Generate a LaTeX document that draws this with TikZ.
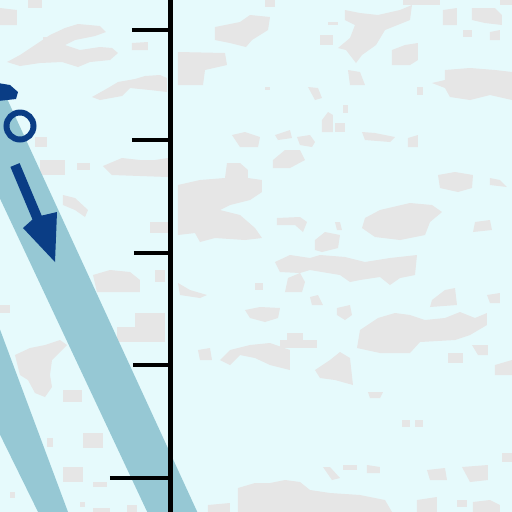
\documentclass[tikz,border=0pt]{standalone}
\usepackage{tikz}
\definecolor{bgc}{HTML}{E6FAFC}
\definecolor{cloudc}{HTML}{E6E6E6}
\definecolor{bandc}{HTML}{96C8D4}
\definecolor{navyc}{HTML}{0A3D85}
\begin{document}
\begin{tikzpicture}[x=0.02cm,y=-0.02cm,
  cloud/.style={fill=cloudc},
  bandfill/.style={fill=bandc},
  axisline/.style={draw=black,line width=2.8pt},
  ticklINE/.style={draw=black,line width=2.8pt},
  marker/.style={fill=navyc}]
\useasboundingbox (0,0) rectangle (512,512);
\fill[bgc] (0,0) rectangle (512,512);
\clip (0,0) rectangle (512,512);
% clouds left
\fill[cloud] (0,8) -- (17,10) -- (17,25) -- (0,25) -- cycle;
\fill[cloud] (28,0) -- (42,0) -- (42,8) -- (28,8) -- cycle;
\fill[cloud] (7,62) -- (20,55) -- (35,45) -- (50,35) -- (65,28) -- (78,24) -- (100,26) -- (106,32) -- (95,36) -- (75,40) -- (65,45) -- (80,50) -- (100,47) -- (112,48) -- (118,53) -- (110,60) -- (90,62) -- (78,67) -- (62,62) -- (40,63) -- (20,66) -- cycle;
\fill[cloud] (43,37) rectangle (50,43);
\fill[cloud] (132,43) -- (148,42) -- (148,50) -- (132,50) -- cycle;
\fill[cloud] (92,97) -- (108,88) -- (118,82) -- (135,79) -- (145,76) -- (160,75) -- (167,78) -- (167,92) -- (150,90) -- (130,88) -- (122,96) -- (100,100) -- cycle;
\fill[cloud] (35,137) rectangle (47,147);
\fill[cloud] (103,166) -- (122,158) -- (140,160) -- (155,160) -- (168,158) -- (168,177) -- (112,175) -- cycle;
\fill[cloud] (40,160) rectangle (65,175);
\fill[cloud] (77,163) rectangle (90,170);
\fill[cloud] (63,195) -- (75,198) -- (88,210) -- (85,217) -- (75,210) -- (63,205) -- cycle;
\fill[cloud] (150,222) rectangle (168,233);
\fill[cloud] (93,275) -- (110,270) -- (130,272) -- (140,280) -- (140,292) -- (97,292) -- cycle;
\fill[cloud] (155,270) rectangle (165,282);
\fill[cloud] (135,313) rectangle (165,342);
\fill[cloud] (117,327) rectangle (137,342);
\fill[cloud] (15,355) -- (30,348) -- (45,345) -- (60,340) -- (67,345) -- (52,360) -- (50,375) -- (52,387) -- (45,397) -- (35,393) -- (28,380) -- (20,375) -- cycle;
\fill[cloud] (63,390) rectangle (82,402);
\fill[cloud] (83,433) rectangle (103,448);
\fill[cloud] (47,438) rectangle (53,447);
\fill[cloud] (63,467) rectangle (83,482);
\fill[cloud] (93,482) rectangle (107,487);
\fill[cloud] (0,305) rectangle (10,313);
\fill[cloud] (10,492) rectangle (15,498);
\fill[cloud] (80,502) rectangle (85,507);
\fill[cloud] (93,508) rectangle (110,512);
\fill[cloud] (127,505) rectangle (137,512);
% clouds right
\fill[cloud] (215,27) -- (240,22) -- (250,15) -- (270,17) -- (268,30) -- (252,40) -- (246,47) -- (230,43) -- (215,40) -- cycle;
\fill[cloud] (178,52) -- (225,53) -- (227,65) -- (205,70) -- (203,85) -- (178,85) -- cycle;
\fill[cloud] (265,0) rectangle (275,7);
\fill[cloud] (345,10) -- (360,13) -- (378,15) -- (400,10) -- (412,5) -- (410,20) -- (385,30) -- (376,45) -- (362,55) -- (356,63) -- (346,50) -- (338,48) -- (350,38) -- (355,25) -- (345,20) -- cycle;
\fill[cloud] (403,0) rectangle (440,5);
\fill[cloud] (320,35) rectangle (333,45);
\fill[cloud] (328,22) rectangle (338,25);
\fill[cloud] (392,50) -- (405,45) -- (418,43) -- (418,60) -- (410,65) -- (392,65) -- cycle;
\fill[cloud] (443,10) -- (457,8) -- (457,25) -- (443,25) -- cycle;
\fill[cloud] (472,8) -- (495,8) -- (502,15) -- (502,25) -- (485,23) -- (472,20) -- cycle;
\fill[cloud] (500,0) rectangle (512,5);
\fill[cloud] (463,30) rectangle (472,37);
\fill[cloud] (490,32) -- (500,30) -- (500,40) -- (490,40) -- cycle;
\fill[cloud] (432,83) -- (445,80) -- (445,70) -- (470,68) -- (495,70) -- (512,72) -- (512,100) -- (490,95) -- (470,100) -- (450,97) -- (445,88) -- cycle;
\fill[cloud] (348,70) -- (360,72) -- (365,85) -- (350,85) -- cycle;
\fill[cloud] (308,87) -- (318,88) -- (322,98) -- (315,100) -- cycle;
\fill[cloud] (417,87) rectangle (423,95);
\fill[cloud] (265,87) rectangle (270,90);
\fill[cloud] (322,120) -- (328,112) -- (333,115) -- (333,132) -- (322,132) -- cycle;
\fill[cloud] (335,123) rectangle (345,132);
\fill[cloud] (343,105) rectangle (348,113);
\fill[cloud] (232,135) -- (245,132) -- (260,137) -- (258,147) -- (240,147) -- cycle;
\fill[cloud] (275,135) -- (290,130) -- (292,138) -- (278,140) -- cycle;
\fill[cloud] (297,137) -- (310,135) -- (315,142) -- (312,147) -- (300,145) -- cycle;
\fill[cloud] (273,160) -- (285,150) -- (300,150) -- (305,160) -- (290,168) -- (273,168) -- cycle;
\fill[cloud] (362,132) -- (375,133) -- (395,137) -- (390,142) -- (365,140) -- cycle;
\fill[cloud] (408,138) -- (418,135) -- (418,147) -- (408,147) -- cycle;
\fill[cloud] (227,163) -- (240,163) -- (248,170) -- (248,178) -- (262,180) -- (262,192) -- (250,200) -- (230,205) -- (220,210) -- (240,215) -- (255,228) -- (262,238) -- (245,240) -- (215,238) -- (200,242) -- (195,233) -- (178,235) -- (178,185) -- (200,180) -- (225,178) -- cycle;
\fill[cloud] (277,218) -- (300,217) -- (307,222) -- (303,232) -- (295,225) -- (277,225) -- cycle;
\fill[cloud] (315,240) -- (325,232) -- (340,235) -- (338,248) -- (322,252) -- (315,250) -- cycle;
\fill[cloud] (335,222) -- (340,222) -- (342,230) -- (337,230) -- cycle;
\fill[cloud] (275,262) -- (290,255) -- (310,258) -- (320,255) -- (345,257) -- (365,262) -- (390,258) -- (417,255) -- (415,275) -- (400,278) -- (390,285) -- (380,277) -- (360,280) -- (350,282) -- (340,275) -- (310,270) -- (300,273) -- (280,272) -- cycle;
\fill[cloud] (288,278) -- (300,273) -- (305,282) -- (302,292) -- (285,292) -- cycle;
\fill[cloud] (365,218) -- (380,210) -- (410,203) -- (432,205) -- (442,212) -- (430,222) -- (425,235) -- (400,240) -- (375,237) -- (362,228) -- cycle;
\fill[cloud] (438,175) -- (455,172) -- (473,175) -- (472,188) -- (458,192) -- (440,188) -- cycle;
\fill[cloud] (490,178) -- (500,180) -- (507,187) -- (490,185) -- cycle;
\fill[cloud] (475,222) -- (490,220) -- (492,230) -- (473,232) -- cycle;
\fill[cloud] (178,283) -- (190,290) -- (207,295) -- (200,298) -- (180,295) -- cycle;
\fill[cloud] (255,283) rectangle (263,290);
\fill[cloud] (245,310) -- (260,307) -- (280,308) -- (278,318) -- (265,322) -- (250,318) -- cycle;
\fill[cloud] (310,297) -- (318,295) -- (323,305) -- (312,305) -- cycle;
\fill[cloud] (337,308) -- (350,305) -- (352,315) -- (345,320) -- (337,315) -- cycle;
\fill[cloud] (432,300) -- (445,290) -- (455,288) -- (457,305) -- (430,307) -- cycle;
\fill[cloud] (487,295) -- (500,293) -- (500,303) -- (490,303) -- cycle;
\fill[cloud] (360,330) -- (378,318) -- (395,313) -- (410,315) -- (425,320) -- (445,318) -- (460,312) -- (475,318) -- (487,313) -- (487,325) -- (470,335) -- (455,340) -- (420,342) -- (410,353) -- (380,353) -- (357,348) -- cycle;
\fill[cloud] (287,333) rectangle (303,340);
\fill[cloud] (280,340) rectangle (317,348);
\fill[cloud] (220,360) -- (230,350) -- (250,345) -- (270,343) -- (290,350) -- (290,370) -- (270,365) -- (255,358) -- (240,355) -- (230,365) -- cycle;
\fill[cloud] (198,350) -- (210,348) -- (212,360) -- (200,360) -- cycle;
\fill[cloud] (315,370) -- (330,360) -- (340,352) -- (350,358) -- (353,385) -- (335,380) -- (320,378) -- cycle;
\fill[cloud] (448,353) rectangle (463,363);
\fill[cloud] (472,345) -- (488,345) -- (488,355) -- (478,355) -- cycle;
\fill[cloud] (495,365) -- (512,360) -- (512,375) -- (495,375) -- cycle;
\fill[cloud] (368,392) -- (383,392) -- (380,398) -- (370,398) -- cycle;
\fill[cloud] (402,420) rectangle (410,427);
\fill[cloud] (415,420) rectangle (423,427);
\fill[cloud] (323,467) -- (330,467) -- (340,478) -- (332,480) -- cycle;
\fill[cloud] (343,465) rectangle (357,470);
\fill[cloud] (367,465) -- (380,467) -- (380,473) -- (367,473) -- cycle;
\fill[cloud] (427,470) -- (445,468) -- (447,480) -- (430,480) -- cycle;
\fill[cloud] (462,467) -- (488,465) -- (488,480) -- (470,482) -- cycle;
\fill[cloud] (502,453) rectangle (512,462);
\fill[cloud] (238,488) -- (255,483) -- (270,483) -- (285,480) -- (300,482) -- (310,490) -- (330,493) -- (360,495) -- (385,500) -- (392,512) -- (238,512) -- cycle;
\fill[cloud] (417,500) -- (437,497) -- (437,512) -- (417,512) -- cycle;
\fill[cloud] (457,500) rectangle (467,507);
\fill[cloud] (473,502) -- (490,500) -- (500,505) -- (500,512) -- (473,512) -- cycle;
\fill[cloud] (208,505) -- (230,503) -- (230,512) -- (208,512) -- cycle;
% bands
\fill[bandfill] (-98,-10) -- (-43,-10) -- (201,520) -- (151,520) -- cycle;
\fill[bandfill] (-11,300) -- (71,520) -- (42,520) -- (-20,394) -- cycle;
% axis and ticks
\coordinate (top) at (170.5,0);
\coordinate (bot) at (170.5,512);
\draw[axisline] (top) -- (bot);
\foreach \yy/\xx in {30/132,140/132,253/134,365/133,478/110}{
  \draw[axisline] (\xx,\yy) -- (170.5,\yy);
}
% navy marks
\fill[marker] (-2,83) -- (10,85) -- (18,92) -- (16,99) -- (-2,101) -- cycle;
\draw[navyc,line width=3.4pt] (20,126) circle (13.5);
\fill[marker] (10.4,166.9) -- (19.6,163.1) -- (41.7,215.6) -- (57,212) -- (55,262) -- (23,228) -- (32.5,219.5) -- cycle;
\end{tikzpicture}
\end{document}
